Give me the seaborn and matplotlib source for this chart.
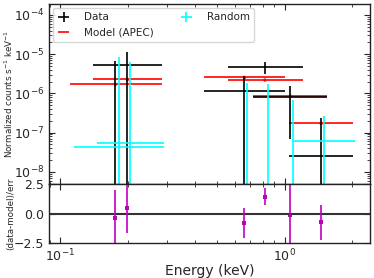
import numpy as np
import matplotlib
matplotlib.use('Agg')
import matplotlib.pyplot as plt
import seaborn as sns
import pandas as pd

# Spectrum values
energy = [0.176, 0.199, 0.662, 0.817, 1.06, 1.455]
e_lo = [0.110, 0.140, 0.438, 0.560, 0.723, 1.042]
e_hi = [0.283, 0.283, 1.007, 1.206, 1.549, 2.026]

data_y = [-1.85e-6, 5.27e-6, 1.12e-6, 4.8e-6, 8.0e-7, 2.5e-8]
data_err = [8.65e-6, 5.8e-6, 1.6e-6, 1.7e-6, 7.3e-7, 2.05e-7]

model_y = [1.7e-6, 2.27e-6, 2.56e-6, 2.19e-6, 8.5e-7, 1.72e-7]

rand_energy = [0.1822, 0.2053, 0.680, 0.846, 1.089, 1.495]
rand_lo = [0.1146, 0.1455, 0.450, 0.580, 0.743, 1.089]
rand_hi = [0.2897, 0.2897, 1.034, 1.249, 1.592, 2.062]
rand_y = [4.27e-8, 5.4e-8, -2.0e-7, -3.0e-7, -1.0e-7, 6.2e-8]
rand_err = [8.56e-6, 6.35e-6, 2.0e-6, 2.0e-6, 7.7e-7, 2.0e-7]

resid = [-0.41, 0.47, -0.83, 1.42, -0.13, -0.75]
resid_err = [2.4, 2.15, 1.27, 0.74, 3.0, 1.47]

sns.set_style('ticks')
plt.rcParams['font.family'] = ['DejaVu Sans']
plt.rcParams['xtick.direction'] = 'in'
plt.rcParams['ytick.direction'] = 'in'

df = pd.DataFrame({'energy': energy, 'lo': e_lo, 'hi': e_hi, 'data': data_y,
                   'err': data_err, 'model': model_y, 'resid': resid, 'rerr': resid_err})
rdf = pd.DataFrame({'energy': rand_energy, 'lo': rand_lo, 'hi': rand_hi,
                    'y': rand_y, 'err': rand_err})

xerr = [df['energy'] - df['lo'], df['hi'] - df['energy']]
rxerr = [rdf['energy'] - rdf['lo'], rdf['hi'] - rdf['energy']]

fig = plt.figure(figsize=(3.74, 2.78), dpi=100)
ax1 = fig.add_axes([0.131, 0.338, 0.858, 0.6475])
ax2 = fig.add_axes([0.131, 0.126, 0.858, 0.212], sharex=ax1)

ax1.set_xscale('log')
ax1.set_yscale('log')

h_model = ax1.errorbar(df['energy'], df['model'], xerr=xerr, fmt='none',
                       ecolor='red', elinewidth=1.2, label='Model (APEC)')
sns.scatterplot(x='energy', y='model', data=df, ax=ax1, color='red', s=6,
                marker='o', edgecolor='none', legend=False)
h_data = ax1.errorbar(df['energy'], df['data'], xerr=xerr, yerr=df['err'],
                      fmt='none', ecolor='black', elinewidth=1.2, label='Data')
h_rand = ax1.errorbar(rdf['energy'], rdf['y'], xerr=rxerr, yerr=rdf['err'],
                      fmt='none', ecolor='cyan', elinewidth=1.2, label='Random')

ax1.set_xlim(0.089, 2.4)
ax1.set_ylim(4.9e-9, 1.9e-4)
ax1.set_ylabel('Normalized counts s$^{-1}$ keV$^{-1}$', fontsize=6.3)
ax1.yaxis.set_label_coords(-0.105, 0.5)
ax1.tick_params(axis='both', which='both', top=True, right=True, labelsize=9)
ax1.tick_params(which='major', length=4)
ax1.tick_params(which='minor', length=2)
ax1.tick_params(axis='x', labelbottom=False)
ax1.legend(handles=[h_data, h_model, h_rand], ncol=2, loc='upper left',
           fontsize=7.5, columnspacing=2.5, handlelength=1.2, handletextpad=1.4,
           borderaxespad=0.4)

# Residual panel
ax2.axhline(0, color='#333333', lw=1.5)
ax2.errorbar(df['energy'], df['resid'], yerr=df['rerr'], fmt='none',
             ecolor='m', elinewidth=1.2)
sns.scatterplot(x='energy', y='resid', data=df, ax=ax2, color='m', s=8,
                marker='s', edgecolor='none', legend=False)
ax2.set_ylim(-2.5, 2.5)
ax2.set_yticks([-2.5, 0.0, 2.5])
ax2.set_yticklabels(['\u22122.5', '0.0', '2.5'])
ax2.set_xlim(0.089, 2.4)
ax2.set_xlabel('Energy (keV)', fontsize=10)
ax2.xaxis.set_label_coords(0.5, -0.35)
ax2.set_ylabel('(data-model)/err', fontsize=6.3)
ax2.yaxis.set_label_coords(-0.105, 0.5)
ax2.tick_params(axis='both', which='both', top=True, right=True, labelsize=9)
ax2.tick_params(which='major', length=4)
ax2.tick_params(which='minor', length=2)

for ax in (ax1, ax2):
    for s in ax.spines.values():
        s.set_linewidth(1.0)
        s.set_color('#222222')

fig.savefig('out.png', dpi=100)
